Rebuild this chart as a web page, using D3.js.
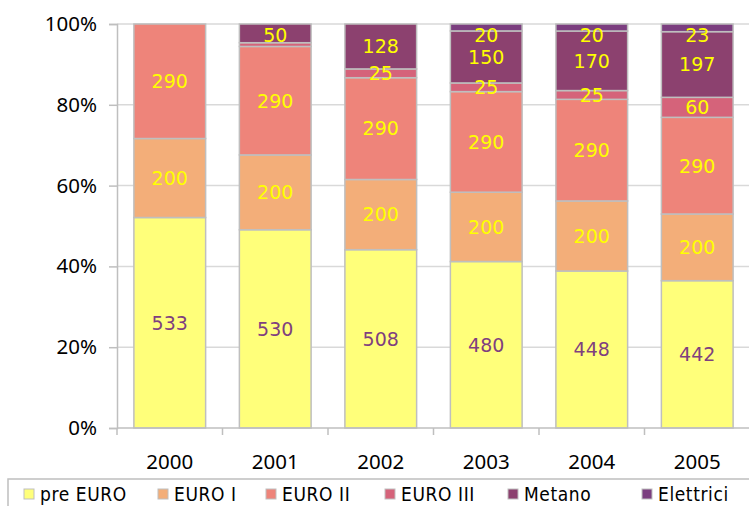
<!DOCTYPE html>
<html>
<head>
<meta charset="utf-8">
<script src="https://cdn.jsdelivr.net/npm/d3@7"></script>
<style>
  body { margin: 0; background: #fff; }
  svg { display: block; }
</style>
</head>
<body>
<div id="chart"></div>
<script>
// Data
const years = ['2000', '2001', '2002', '2003', '2004', '2005'];
const seriesNames = ['pre EURO', 'EURO I', 'EURO II', 'EURO III', 'Metano', 'Elettrici'];
const preEuro   = [533, 530, 508, 480, 448, 442];
const euroI     = [200, 200, 200, 200, 200, 200];
const euroII    = [290, 290, 290, 290, 290, 290];
const euroIII   = [0, 10, 25, 25, 25, 60];
const metano    = [0, 50, 128, 150, 170, 197];
const elettrici = [0, 0, 0, 20, 20, 23];
const yTicks = [0, 0.2, 0.4, 0.6, 0.8, 1];

const colors = ['#FFFF7A', '#F3AE79', '#EE847A', '#D5637A', '#8C416F', '#7B3E7F'];
const labelColors = ['#7F3F7F', '#FFFF00', '#FFFF00', '#FFFF00', '#FFFF00', '#FFFF00'];

const width = 749, height = 506;
const margin = { top: 24, left: 117, bottom: 78 };
const plotBottom = height - margin.bottom; // 428
const plotRight = 750;

const svg = d3.select('#chart').append('svg')
  .attr('width', width)
  .attr('height', height);

// Build rows for the stack
const allSeries = [preEuro, euroI, euroII, euroIII, metano, elettrici];
const rows = years.map((yr, i) => {
  const row = { year: yr };
  seriesNames.forEach((s, k) => { row[s] = allSeries[k][i]; });
  return row;
});

const stack = d3.stack()
  .keys(seriesNames)
  .offset(d3.stackOffsetExpand);
const stacked = stack(rows);

const x = d3.scaleBand()
  .domain(years)
  .range([margin.left, plotRight])
  .paddingInner(0.32)
  .paddingOuter(0.16);

const y = d3.scaleLinear()
  .domain([0, 1])
  .range([plotBottom, margin.top]);

// Gridlines
svg.append('g')
  .selectAll('line')
  .data(yTicks.filter(t => t > 0))
  .join('line')
  .attr('x1', margin.left)
  .attr('x2', width)
  .attr('y1', d => y(d))
  .attr('y2', d => y(d))
  .attr('stroke', '#D9D9D9')
  .attr('stroke-width', 1.5);

// Bars
const layers = svg.append('g')
  .selectAll('g')
  .data(stacked)
  .join('g')
  .attr('fill', (d, i) => colors[i]);

layers.selectAll('rect')
  .data(d => d)
  .join('rect')
  .attr('x', d => x(d.data.year))
  .attr('width', x.bandwidth())
  .attr('y', d => y(d[1]))
  .attr('height', d => y(d[0]) - y(d[1]))
  .attr('stroke', '#BFBFBF')
  .attr('stroke-width', 1.5);

// Data labels
stacked.forEach((layer, k) => {
  svg.append('g')
    .selectAll('text')
    .data(layer.filter(d => d.data[layer.key] >= 20))
    .join('text')
    .attr('x', d => x(d.data.year) + x.bandwidth() / 2)
    .attr('y', d => Math.max((y(d[0]) + y(d[1])) / 2, margin.top + 11))
    .attr('dy', '0.36em')
    .attr('text-anchor', 'middle')
    .attr('font-family', '"DejaVu Sans", sans-serif')
    .attr('font-size', 19)
    .attr('fill', labelColors[k])
    .text(d => d.data[layer.key]);
});

// Y axis
const yAxis = svg.append('g')
  .attr('transform', `translate(${margin.left},0)`)
  .call(d3.axisLeft(y).tickValues(yTicks).tickFormat(d3.format('.0%')).tickSize(8).tickPadding(12));
yAxis.select('.domain').attr('stroke', '#BFBFBF').attr('stroke-width', 1.5);
yAxis.selectAll('.tick line').attr('stroke', '#BFBFBF').attr('stroke-width', 1.5);
yAxis.selectAll('.tick text')
  .attr('font-family', '"Noto Sans", sans-serif')
  .attr('font-size', 20.5)
  .attr('fill', '#000');

// X axis line and ticks at band boundaries
svg.append('line')
  .attr('x1', margin.left).attr('x2', width)
  .attr('y1', plotBottom).attr('y2', plotBottom)
  .attr('stroke', '#BFBFBF').attr('stroke-width', 1.5);

const step = x.step();
const boundaries = years.map((yr, i) => margin.left + i * step);
svg.append('g')
  .selectAll('line')
  .data(boundaries)
  .join('line')
  .attr('x1', d => d).attr('x2', d => d)
  .attr('y1', plotBottom).attr('y2', plotBottom + 7)
  .attr('stroke', '#BFBFBF').attr('stroke-width', 1.5);

svg.append('g')
  .selectAll('text')
  .data(years)
  .join('text')
  .attr('x', d => x(d) + x.bandwidth() / 2)
  .attr('y', 469)
  .attr('text-anchor', 'middle')
  .attr('font-family', '"Noto Sans", sans-serif')
  .attr('font-size', 20.5)
  .attr('fill', '#000')
  .text(d => d);

// Legend
svg.append('rect')
  .attr('x', 8).attr('y', 479)
  .attr('width', 760).attr('height', 40)
  .attr('fill', '#fff')
  .attr('stroke', '#BFBFBF')
  .attr('stroke-width', 1.5);

const legendX = [24, 158, 266, 385, 508, 642];
const legend = svg.append('g')
  .selectAll('g')
  .data(seriesNames)
  .join('g')
  .attr('transform', (d, i) => `translate(${legendX[i]},494)`);

legend.append('rect')
  .attr('x', 0).attr('y', -5)
  .attr('width', 10).attr('height', 10)
  .attr('fill', (d, i) => colors[i])
  .attr('stroke', '#BFBFBF')
  .attr('stroke-width', 1);

legend.append('text')
  .attr('x', 16)
  .attr('dy', '0.36em')
  .attr('font-family', '"DejaVu Sans Condensed", "DejaVu Sans", sans-serif')
  .attr('font-size', 19)
  .attr('letter-spacing', 0.6)
  .attr('fill', '#000')
  .text(d => d);
</script>
</body>
</html>
